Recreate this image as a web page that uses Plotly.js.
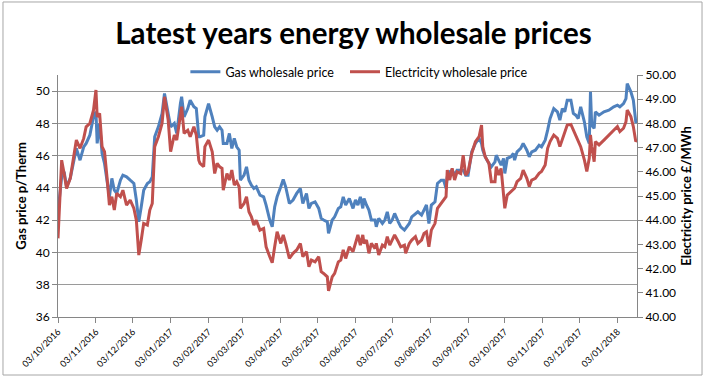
<!DOCTYPE html>
<html>
<head>
<meta charset="utf-8">
<script src="https://cdn.plot.ly/plotly-3.0.1.min.js"></script>
<style>html,body{margin:0;padding:0;background:#fff;}#chart{width:707px;height:377px;}</style>
</head>
<body>
<div id="chart"></div>
<script>
const dates = [
'2016-10-03','2016-10-05','2016-10-06','2016-10-08','2016-10-10','2016-10-13','2016-10-16','2016-10-18','2016-10-21','2016-10-24',
'2016-10-26','2016-10-29','2016-11-01','2016-11-03','2016-11-04','2016-11-06','2016-11-08','2016-11-10','2016-11-12','2016-11-14',
'2016-11-16','2016-11-18','2016-11-20','2016-11-23','2016-11-25','2016-11-28','2016-12-01','2016-12-04','2016-12-06','2016-12-08',
'2016-12-10','2016-12-12','2016-12-15','2016-12-17','2016-12-19','2016-12-21','2016-12-24','2016-12-27','2016-12-29','2017-01-01',
'2017-01-03','2017-01-06','2017-01-08','2017-01-11','2017-01-12','2017-01-14','2017-01-17','2017-01-19','2017-01-22','2017-01-24',
'2017-01-26',
'2017-01-27','2017-01-30','2017-01-31','2017-02-03','2017-02-06','2017-02-08','2017-02-10','2017-02-12','2017-02-14','2017-02-15',
'2017-02-18','2017-02-20','2017-02-22','2017-02-24','2017-02-26','2017-02-28','2017-03-01','2017-03-04','2017-03-06','2017-03-08',
'2017-03-10','2017-03-12','2017-03-14','2017-03-17','2017-03-20','2017-03-22','2017-03-25','2017-03-27','2017-03-29','2017-03-31',
'2017-04-03','2017-04-05','2017-04-07','2017-04-10','2017-04-13','2017-04-16','2017-04-19','2017-04-21','2017-04-24','2017-04-26',
'2017-04-28','2017-05-01','2017-05-04','2017-05-06','2017-05-08','2017-05-11','2017-05-12','2017-05-15','2017-05-17','2017-05-20',
'2017-05-22','2017-05-24','2017-05-26','2017-05-29',
'2017-06-01','2017-06-03','2017-06-05','2017-06-07','2017-06-09','2017-06-10','2017-06-12','2017-06-14','2017-06-16','2017-06-19',
'2017-06-20','2017-06-22','2017-06-25','2017-06-27','2017-06-29','2017-07-01','2017-07-03','2017-07-05','2017-07-08','2017-07-10',
'2017-07-13','2017-07-14','2017-07-17','2017-07-19','2017-07-22','2017-07-24','2017-07-27','2017-07-29','2017-07-31','2017-08-02',
'2017-08-04','2017-08-07','2017-08-09','2017-08-12','2017-08-14','2017-08-16','2017-08-17','2017-08-19','2017-08-21','2017-08-23',
'2017-08-25','2017-08-28','2017-08-30','2017-09-01','2017-09-03','2017-09-06','2017-09-09','2017-09-12','2017-09-14','2017-09-15',
'2017-09-17','2017-09-20','2017-09-22',
'2017-09-25','2017-09-26','2017-09-28','2017-09-30','2017-10-02','2017-10-03','2017-10-05','2017-10-08','2017-10-10','2017-10-11',
'2017-10-13','2017-10-16','2017-10-18','2017-10-21','2017-10-23','2017-10-25','2017-10-28','2017-10-31','2017-11-02','2017-11-05',
'2017-11-07','2017-11-09','2017-11-12','2017-11-15','2017-11-17','2017-11-19','2017-11-21','2017-11-23','2017-11-26','2017-11-28',
'2017-11-30','2017-12-02','2017-12-04','2017-12-07','2017-12-09','2017-12-11','2017-12-12','2017-12-13','2017-12-15','2017-12-16',
'2017-12-19','2017-12-23','2017-12-27','2017-12-31','2018-01-03','2018-01-05','2018-01-08','2018-01-10','2018-01-11','2018-01-14',
'2018-01-16','2018-01-18','2018-01-19'
];

// Gas wholesale price, p/Therm (left axis)
const gasPrice = [
42.52,44.28,44.69,45.00,44.07,44.59,45.72,46.45,45.72,46.55,
46.76,47.27,48.41,48.72,46.76,48.00,46.14,45.52,44.48,43.45,
44.59,43.86,43.66,44.48,44.79,44.69,44.48,44.28,43.25,41.90,
42.83,43.86,44.28,44.38,44.69,47.17,47.79,48.61,49.85,48.61,
47.79,48.00,47.38,49.23,49.65,48.41,48.92,49.44,49.03,48.92,
47.17,
47.17,47.27,48.41,49.23,48.41,47.79,47.58,47.79,47.58,46.76,
46.76,47.38,46.45,47.07,46.55,46.34,44.48,44.79,45.31,44.48,
44.17,43.97,44.07,43.55,43.45,42.94,42.01,41.59,42.83,43.45,
44.07,44.53,44.07,43.04,43.25,43.66,43.97,43.04,43.66,42.73,
43.04,43.14,42.73,42.11,42.01,41.90,41.18,42.01,42.21,42.73,
42.83,43.45,42.94,43.35,
42.73,43.25,42.94,43.45,42.73,43.35,42.94,42.63,42.01,42.01,
41.59,42.11,41.80,42.01,42.52,41.80,42.01,42.42,41.90,41.59,
41.39,41.49,41.80,42.21,42.42,42.52,42.32,42.63,42.94,41.80,
42.94,43.14,44.28,44.48,44.48,43.97,44.69,45.00,45.10,44.79,
45.10,45.10,45.10,44.79,44.79,46.24,46.76,47.07,46.76,46.34,
45.93,45.52,45.31,
45.62,46.03,45.72,45.41,45.83,44.90,45.83,45.93,46.14,45.72,
46.24,46.45,46.76,46.34,45.93,46.24,46.34,46.65,46.55,46.96,
47.58,48.30,48.92,48.72,48.20,48.92,48.72,49.44,49.44,48.62,
48.51,48.30,49.03,48.10,47.17,46.76,49.96,47.89,47.69,48.72,
48.51,48.72,48.82,49.03,49.13,49.03,49.23,49.54,50.47,49.96,
49.44,48.10,48.10
];

// Electricity wholesale price, £/MWh (right axis)
const elecPrice = [
43.25,45.66,46.48,45.93,45.31,45.73,46.69,47.31,46.97,47.38,
47.86,48.00,48.55,49.38,48.27,48.41,47.04,46.83,45.80,44.62,
44.97,44.42,45.11,44.97,45.24,44.62,44.83,44.49,44.00,42.56,
43.18,43.87,43.80,44.42,44.69,47.04,47.45,48.00,49.10,48.14,
46.83,47.52,47.31,48.27,48.69,47.59,47.72,47.45,47.86,47.52,
46.48,
46.35,46.21,47.04,47.31,46.83,45.93,46.35,46.21,46.14,45.24,
45.93,45.66,46.07,45.45,45.59,45.38,44.49,44.69,44.97,44.35,
44.14,43.80,44.00,43.59,43.66,42.90,42.49,42.24,42.90,43.52,
43.04,43.39,43.04,42.42,42.63,42.77,43.04,42.49,42.70,42.08,
42.35,42.28,42.49,41.87,41.80,41.66,41.08,41.66,41.80,42.28,
42.35,42.77,42.42,42.90,
42.70,43.04,43.39,42.97,43.39,43.04,43.18,42.63,43.04,42.83,
43.04,42.56,42.97,42.90,43.32,42.97,43.18,43.39,43.11,42.90,
42.97,42.63,43.04,43.18,43.32,43.04,43.18,43.45,43.52,42.90,
43.59,43.87,44.49,44.69,44.83,44.97,46.07,45.66,46.14,45.66,
46.00,45.93,46.69,45.86,46.00,46.76,47.24,47.45,47.93,47.04,
46.62,46.35,45.59,
45.59,46.21,45.87,46.14,44.90,44.49,45.04,45.18,45.25,45.32,
45.59,45.73,46.07,45.73,45.39,45.66,45.73,45.94,46.01,46.28,
46.97,47.25,47.52,47.38,47.04,47.31,47.59,47.93,47.96,47.73,
47.45,47.25,47.04,46.49,46.01,46.56,47.52,47.04,46.42,47.25,
47.11,47.31,47.52,47.73,47.87,47.66,47.80,48.07,48.55,48.28,
47.87,47.25,47.31
];

const monthTicks = ['2016-10-03','2016-11-03','2016-12-03','2017-01-03','2017-02-03','2017-03-03','2017-04-03',
'2017-05-03','2017-06-03','2017-07-03','2017-08-03','2017-09-03','2017-10-03','2017-11-03','2017-12-03','2018-01-03'];
const gasTicks = [36,38,40,42,44,46,48,50];
const elecTicks = [40,41,42,43,44,45,46,47,48,49,50];

const FONT = 'Lato, "Open Sans", sans-serif';
const AXC = '#868686';

const traces = [
  {x: dates, y: gasPrice, name: 'Gas wholesale price', type: 'scatter', mode: 'lines',
   line: {color: '#4F81BD', width: 3}, yaxis: 'y', legend: 'legend'},
  {x: dates, y: elecPrice, name: 'Electricity wholesale price', type: 'scatter', mode: 'lines',
   line: {color: '#C0504D', width: 3}, yaxis: 'y2', legend: 'legend2'}
];

const legendBase = {orientation: 'h', xanchor: 'left', y: 1.012, yanchor: 'middle',
                    font: {family: FONT, size: 12.5}, itemwidth: 30, bgcolor: 'rgba(0,0,0,0)'};

const layout = {
  width: 707, height: 377,
  margin: {l: 58, r: 70, t: 75, b: 60},
  paper_bgcolor: '#fff', plot_bgcolor: '#fff',
  font: {family: FONT, size: 12, color: '#000'},
  title: {text: '<b>Latest years energy wholesale prices</b>', font: {family: FONT, size: 29.5, color: '#000'},
          x: 0.5, xref: 'container', y: 0.912, yref: 'container', yanchor: 'middle'},
  showlegend: true,
  legend: Object.assign({}, legendBase, {x: 0.22}),
  legend2: Object.assign({}, legendBase, {x: 0.4957}),
  xaxis: {type: 'date', range: ['2016-10-03', '2018-01-19'], tickvals: monthTicks, tickformat: '%d/%m/%Y',
          tickangle: -45, tickfont: {family: FONT, size: 9}, showgrid: false, zeroline: false,
          showline: true, linecolor: AXC, linewidth: 1, ticks: 'outside', ticklen: 5, tickcolor: AXC},
  yaxis: {range: [36, 51], tickvals: gasTicks, showgrid: true, gridcolor: '#9a9a9a', gridwidth: 1,
          zeroline: false, showline: true, linecolor: AXC, ticks: 'outside', ticklen: 5, tickcolor: AXC,
          tickfont: {family: FONT, size: 12},
          title: {text: '<b>Gas price p/Therm</b>', font: {family: FONT, size: 13}, standoff: 6}},
  yaxis2: {range: [40, 50], tickvals: elecTicks, tickformat: '.2f', overlaying: 'y', side: 'right',
          showgrid: false, zeroline: false, showline: true, linecolor: AXC, ticks: 'outside', ticklen: 5, tickcolor: AXC,
          tickfont: {family: FONT, size: 12},
          title: {text: '<b>Electricity price £/MWh</b>', font: {family: FONT, size: 13}, standoff: 6}},
  shapes: [{type: 'rect', xref: 'paper', yref: 'paper', x0: -0.095, x1: 1.1123, y0: -0.2397, y1: 1.3017,
            line: {color: '#a6a6a6', width: 1}, fillcolor: 'rgba(0,0,0,0)', layer: 'below'}]
};

Plotly.newPlot('chart', traces, layout, {displayModeBar: false, staticPlot: true});
</script>
</body>
</html>
